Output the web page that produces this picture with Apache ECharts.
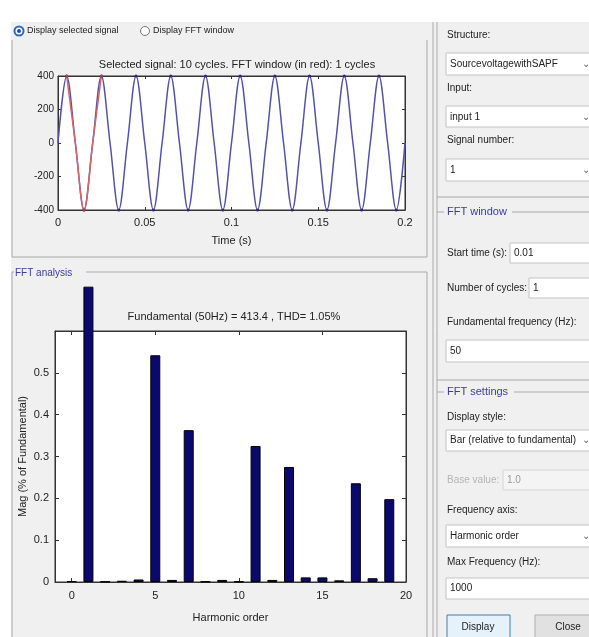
<!DOCTYPE html>
<html>
<head>
<meta charset="utf-8">
<script src="https://cdn.jsdelivr.net/npm/echarts@6/dist/echarts.min.js"></script>
<style>
  html, body { margin: 0; padding: 0; background: #fff; }
  #main { width: 589px; height: 637px; }
</style>
</head>
<body>
<div id="main"></div>
<script>
// selected signal, read at peaks / zero crossings (s, V)
const timeS = [0, 0.005, 0.01, 0.015, 0.02, 0.025, 0.03, 0.035, 0.04, 0.045,
  0.05, 0.055, 0.06, 0.065, 0.07, 0.075, 0.08, 0.085, 0.09, 0.095,
  0.1, 0.105, 0.11, 0.115, 0.12, 0.125, 0.13, 0.135, 0.14, 0.145,
  0.15, 0.155, 0.16, 0.165, 0.17, 0.175, 0.18, 0.185, 0.19, 0.195, 0.2];
const signalV = [0, 400, 0, -400, 0, 400, 0, -400, 0, 400,
  0, -400, 0, 400, 0, -400, 0, 400, 0, -400,
  0, 400, 0, -400, 0, 400, 0, -400, 0, 400,
  0, -400, 0, 400, 0, -400, 0, 400, 0, -400, 0];
// FFT window (red), one cycle
const windowT = [0.005, 0.01, 0.015, 0.02, 0.025];
const windowV = [400, 0, -400, 0, 400];
const timeTicks = [0, 0.05, 0.1, 0.15, 0.2];

// FFT bars, % of fundamental (bar 1 is drawn as far as it shows)
const harmonicOrder = [0, 1, 2, 3, 4, 5, 6, 7, 8, 9, 10, 11, 12, 13, 14, 15, 16, 17, 18, 19];
const magPct = [0.002, 0.706, 0.001, 0.003, 0.006, 0.542, 0.005, 0.363, 0.001, 0.005,
  0.001, 0.325, 0.005, 0.275, 0.011, 0.011, 0.004, 0.236, 0.009, 0.198];
const harmonicTicks = [0, 5, 10, 15, 20];

const FONT = 'Liberation Sans';
const INK = '#222';
const PANEL = '#a8a8a8';
const BLUE_T = '#3a3aa6';

function txt(x, y, s, extra) {
  return {
    type: 'text', x: x, y: y, z: 10,
    style: Object.assign({ text: s, fill: INK, font: '10px ' + FONT, textVerticalAlign: 'middle' }, extra || {})
  };
}
function box(x, y, w, h, fill, stroke) {
  return {
    type: 'rect', z: 5,
    shape: { x: x, y: y, width: w, height: h },
    style: { fill: fill || '#fff', stroke: stroke || '#c4c4c4', lineWidth: 1 }
  };
}
function line(x1, y1, x2, y2, c) {
  return {
    type: 'line', z: 5,
    shape: { x1: x1, y1: y1, x2: x2, y2: y2 },
    style: { stroke: c || PANEL, lineWidth: 1 }
  };
}

const graphics = [
  // white margins
  { type: 'rect', z: 1, shape: { x: 0, y: 0, width: 589, height: 22 }, style: { fill: '#fff' } },
  { type: 'rect', z: 1, shape: { x: 0, y: 0, width: 11, height: 637 }, style: { fill: '#fff' } },
  // radio buttons
  { type: 'circle', z: 10, shape: { cx: 19, cy: 31, r: 4.5 }, style: { fill: '#fff', stroke: '#2a6bbd', lineWidth: 2 } },
  { type: 'circle', z: 11, shape: { cx: 19, cy: 31, r: 2 }, style: { fill: '#1d4f9a' } },
  txt(27, 31, 'Display selected signal', { font: '9px ' + FONT }),
  { type: 'circle', z: 10, shape: { cx: 145, cy: 31, r: 4.5 }, style: { fill: '#fff', stroke: '#777', lineWidth: 1 } },
  txt(153, 31, 'Display FFT window', { font: '9px ' + FONT }),
  // top-left panel frame
  line(12, 40, 12, 257), line(12, 257, 427, 257), line(427, 40, 427, 257),
  // FFT analysis panel frame
  line(12, 272, 14, 272), line(86, 272, 427, 272), line(12, 272, 12, 637), line(427, 272, 427, 637),
  txt(15, 273, 'FFT analysis', { fill: BLUE_T, font: '10px ' + FONT }),
  // right column frame
  line(433, 22, 433, 637), line(437, 22, 437, 637),
  // signal selection group
  txt(447, 35, 'Structure:'),
  box(446, 53, 160, 22), txt(450, 64, 'SourcevoltagewithSAPF'), txt(582, 64, '\u2304', { fill: '#666' }),
  txt(447, 88, 'Input:'),
  box(446, 106, 160, 21), txt(450, 117, 'input 1'), txt(582, 117, '\u2304', { fill: '#666' }),
  txt(447, 140, 'Signal number:'),
  box(446, 159, 160, 22), txt(450, 170, '1'), txt(582, 170, '\u2304', { fill: '#666' }),
  line(437, 197, 589, 197),
  // FFT window group
  line(437, 212, 444, 212), line(512, 212, 589, 212),
  txt(447, 212, 'FFT window', { fill: BLUE_T, font: '11px ' + FONT }),
  txt(447, 253, 'Start time (s):'),
  box(510, 243, 90, 20), txt(514, 253, '0.01'),
  txt(447, 288, 'Number of cycles:'),
  box(529, 278, 70, 20), txt(533, 288, '1'),
  txt(447, 322, 'Fundamental frequency (Hz):'),
  box(446, 340, 160, 22), txt(450, 351, '50'),
  line(437, 380, 589, 380),
  // FFT settings group
  line(437, 392, 444, 392), line(514, 392, 589, 392),
  txt(447, 392, 'FFT settings', { fill: BLUE_T, font: '11px ' + FONT }),
  txt(447, 417, 'Display style:'),
  box(446, 430, 160, 21), txt(450, 440, 'Bar (relative to fundamental)'), txt(582, 440, '\u2304', { fill: '#666' }),
  txt(447, 480, 'Base value:', { fill: '#b5b5b5' }),
  box(503, 470, 96, 20, '#f4f4f4', '#d4d4d4'), txt(507, 480, '1.0', { fill: '#9a9a9a' }),
  txt(447, 510, 'Frequency axis:'),
  box(446, 525, 160, 22), txt(450, 536, 'Harmonic order'), txt(582, 536, '\u2304', { fill: '#666' }),
  txt(447, 562, 'Max Frequency (Hz):'),
  box(446, 578, 160, 21), txt(450, 588, '1000'),
  // buttons
  box(447, 615, 63, 24, '#e5f1fb', '#3c7fb1'),
  txt(478, 627, 'Display', { textAlign: 'center' }),
  box(535, 615, 70, 24, '#e1e1e1', '#adadad'),
  txt(568, 627, 'Close', { textAlign: 'center' })
];

const axisText = { color: INK, fontFamily: FONT, fontSize: 11 };
const axisLine = { show: true, onZero: false, lineStyle: { color: '#333', width: 1 } };
// dots only at the peaks, as in the reference trace
const peakDot = v => (v[1] === 0 ? 0 : 3);

const option = {
  backgroundColor: '#f0f0f0',
  animation: false,
  textStyle: { fontFamily: FONT },
  title: [
    {
      text: 'Selected signal: 10 cycles. FFT window (in red): 1 cycles',
      left: 232, top: 54, textAlign: 'center',
      textStyle: { fontSize: 11, fontWeight: 'normal', color: INK, fontFamily: FONT }
    },
    {
      text: 'Fundamental (50Hz) = 413.4 , THD= 1.05%',
      left: 229, top: 306, textAlign: 'center',
      textStyle: { fontSize: 11, fontWeight: 'normal', color: INK, fontFamily: FONT }
    }
  ],
  grid: [
    { left: 58, top: 76, width: 347, height: 134, show: true, backgroundColor: '#fff', borderColor: '#333', borderWidth: 1 },
    { left: 55, top: 331, width: 351, height: 251, show: true, backgroundColor: '#fff', borderColor: '#333', borderWidth: 1 }
  ],
  xAxis: [
    {
      gridIndex: 0, type: 'value', min: 0, max: 0.2, interval: 0.05,
      name: 'Time (s)', nameLocation: 'middle', nameGap: 25, nameTextStyle: axisText,
      axisLine: axisLine, splitLine: { show: false },
      axisTick: { inside: true, length: 3, customValues: timeTicks, lineStyle: { color: '#333' } },
      axisLabel: { customValues: timeTicks, margin: 7, color: INK, fontFamily: FONT, fontSize: 11 }
    },
    {
      gridIndex: 0, type: 'value', position: 'top', min: 0, max: 0.2, interval: 0.05,
      axisLine: axisLine, splitLine: { show: false }, axisLabel: { show: false },
      axisTick: { inside: true, length: 3, lineStyle: { color: '#333' } }
    },
    {
      gridIndex: 1, type: 'value', min: -1, max: 20,
      name: 'Harmonic order', nameLocation: 'middle', nameGap: 30, nameTextStyle: axisText,
      axisLine: axisLine, splitLine: { show: false },
      axisTick: { inside: true, length: 4, customValues: harmonicTicks, lineStyle: { color: '#333' } },
      axisLabel: { customValues: harmonicTicks, margin: 8, color: INK, fontFamily: FONT, fontSize: 11 }
    },
    {
      gridIndex: 1, type: 'value', position: 'top', min: -1, max: 20,
      axisLine: axisLine, splitLine: { show: false }, axisLabel: { show: false },
      axisTick: { inside: true, length: 4, customValues: harmonicTicks, lineStyle: { color: '#333' } }
    }
  ],
  yAxis: [
    {
      gridIndex: 0, type: 'value', min: -400, max: 400, interval: 200,
      axisLine: axisLine, splitLine: { show: false },
      axisTick: { inside: true, length: 3, lineStyle: { color: '#333' } },
      axisLabel: { margin: 4, color: INK, fontFamily: FONT, fontSize: 10 }
    },
    {
      gridIndex: 0, type: 'value', position: 'right', min: -400, max: 400, interval: 200,
      axisLine: axisLine, splitLine: { show: false }, axisLabel: { show: false },
      axisTick: { inside: true, length: 3, lineStyle: { color: '#333' } }
    },
    {
      gridIndex: 1, type: 'value', min: 0, max: 0.6, interval: 0.1,
      name: 'Mag (% of Fundamental)', nameLocation: 'middle', nameGap: 27, nameMoveOverlap: false,
      nameTextStyle: axisText,
      axisLine: axisLine, splitLine: { show: false },
      axisTick: { inside: true, length: 4, lineStyle: { color: '#333' } },
      axisLabel: { margin: 6, showMaxLabel: false, color: INK, fontFamily: FONT, fontSize: 11 }
    },
    {
      gridIndex: 1, type: 'value', position: 'right', min: 0, max: 0.6, interval: 0.1,
      axisLine: axisLine, splitLine: { show: false }, axisLabel: { show: false },
      axisTick: { inside: true, length: 4, lineStyle: { color: '#333' } }
    }
  ],
  series: [
    {
      type: 'line', xAxisIndex: 0, yAxisIndex: 0,
      data: timeS.map((t, i) => [t, signalV[i]]),
      smooth: 0.35, symbol: 'circle', symbolSize: peakDot,
      itemStyle: { color: '#2a2a7a' },
      lineStyle: { color: '#5252a8', width: 1.5 }
    },
    {
      type: 'line', xAxisIndex: 0, yAxisIndex: 0,
      data: windowT.map((t, i) => [t, windowV[i]]),
      smooth: 0.35, symbol: 'circle', symbolSize: peakDot,
      itemStyle: { color: '#b04040' },
      lineStyle: { color: '#d86464', width: 1.5 }
    },
    {
      type: 'bar', xAxisIndex: 2, yAxisIndex: 2,
      data: harmonicOrder.map((h, i) => [h, magPct[i]]),
      barWidth: 10, clip: false,
      itemStyle: { color: '#0a0a6e', borderColor: '#000', borderWidth: 1 }
    }
  ],
  graphic: graphics
};

const chart = echarts.init(document.getElementById('main'), null, { renderer: 'canvas' });
chart.setOption(option);
</script>
</body>
</html>
